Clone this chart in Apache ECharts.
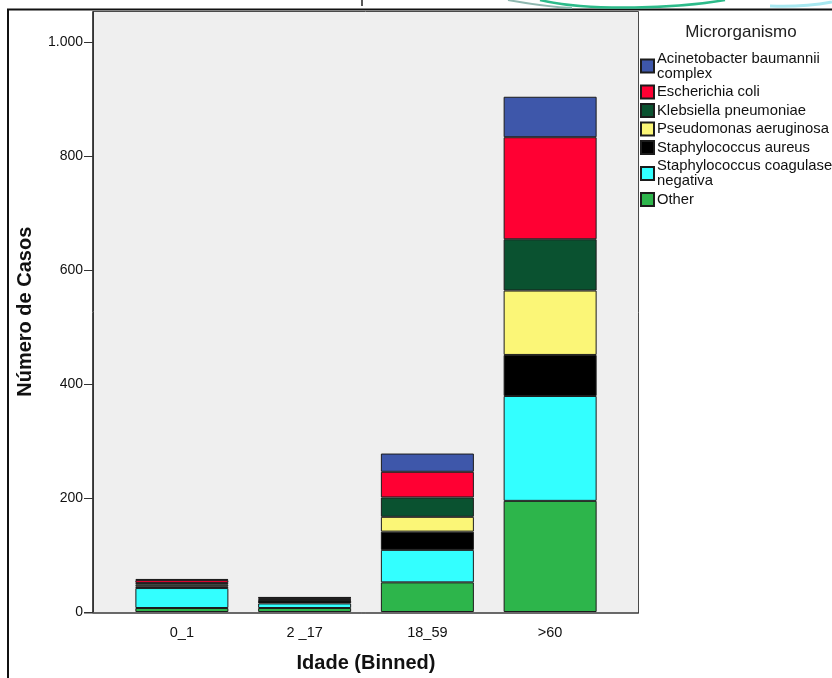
<!DOCTYPE html>
<html>
<head>
<meta charset="utf-8">
<script src="https://cdn.jsdelivr.net/npm/echarts@6/dist/echarts.min.js"></script>
<style>
html,body{margin:0;padding:0;background:#fff;}
#chart{width:832px;height:678px;}
</style>
</head>
<body>
<div id="chart"></div>
<script>
// ---- data ----
var categories = ['0_1', '2 _17', '18_59', '>60'];
var seriesNames = [
  'Other',
  'Staphylococcus coagulase negativa',
  'Staphylococcus aureus',
  'Pseudomonas aeruginosa',
  'Klebsiella pneumoniae',
  'Escherichia coli',
  'Acinetobacter baumannii complex'
];
var other   = [7, 7, 52, 195];
var coag    = [35, 8, 57, 184];
var aureus  = [3, 5, 32, 72];
var pseudo  = [3, 1, 26, 113];
var kleb    = [3, 2, 34, 90];
var ecoli   = [5, 2, 45, 179];
var acineto = [2, 1, 32, 71];
var yTicks = [0, 200, 400, 600, 800, 1000];
var legendOrder = [
  'Acinetobacter baumannii complex',
  'Escherichia coli',
  'Klebsiella pneumoniae',
  'Pseudomonas aeruginosa',
  'Staphylococcus aureus',
  'Staphylococcus coagulase negativa',
  'Other'
];
var legendLabels = {
  'Acinetobacter baumannii complex': 'Acinetobacter baumannii\ncomplex',
  'Staphylococcus coagulase negativa': 'Staphylococcus coagulase\nnegativa'
};

var values = [other, coag, aureus, pseudo, kleb, ecoli, acineto];
var colors = ['#2DB54B', '#33FFFF', '#000000', '#FBF677', '#0A5230', '#FF0033', '#3E57AA'];

var FONT = "'Liberation Sans', Arial, sans-serif";

var chart = echarts.init(document.getElementById('chart'), null, {renderer: 'canvas'});

var series = seriesNames.map(function (n, i) {
  return {
    name: n,
    type: 'bar',
    stack: 'total',
    data: values[i],
    barWidth: 93,
    itemStyle: {color: colors[i], borderColor: '#1c1c1c', borderWidth: 1},
    emphasis: {disabled: true}
  };
});

var option = {
  animation: false,
  textStyle: {fontFamily: FONT},
  title: {
    text: 'Microrganismo',
    left: 741, top: 24,
    padding: 0,
    textAlign: 'center',
    textStyle: {fontFamily: FONT, fontSize: 17, fontWeight: 'normal', color: '#222'}
  },
  legend: {
    data: legendOrder,
    orient: 'vertical',
    left: 640, top: 51,
    padding: 0,
    itemWidth: 13, itemHeight: 13,
    itemGap: 3.5,
    icon: 'rect',
    selectedMode: false,
    formatter: function (name) { return legendLabels[name] || name; },
    textStyle: {fontFamily: FONT, fontSize: 14.8, lineHeight: 15, color: '#111', padding: [0, 0, 0, -2]}
  },
  grid: {left: 120.5, right: 220.5, top: 11.5, bottom: 65, containLabel: false},
  xAxis: {
    type: 'category',
    data: categories,
    name: 'Idade (Binned)',
    nameLocation: 'middle',
    nameGap: 41,
    nameTextStyle: {fontFamily: FONT, fontSize: 20, fontWeight: 'bold', color: '#111'},
    axisLine: {show: false},
    axisTick: {alignWithLabel: true, length: 7, lineStyle: {color: '#333'}},
    axisLabel: {fontFamily: FONT, fontSize: 14.5, color: '#111', margin: 13},
    splitLine: {show: false}
  },
  yAxis: {
    type: 'value',
    min: 0, max: 1053.6,
    interval: 200,
    offset: 27.5,
    name: 'Número de Casos',
    nameLocation: 'middle',
    nameGap: 58,
    nameTextStyle: {fontFamily: FONT, fontSize: 20, fontWeight: 'bold', color: '#111'},
    axisLine: {show: true, lineStyle: {color: '#333', width: 1}},
    axisTick: {show: true, length: 9, lineStyle: {color: '#333'}, customValues: yTicks},
    axisLabel: {
      fontFamily: FONT, fontSize: 14, color: '#111', margin: 10,
      customValues: yTicks,
      formatter: function (v) { return String(v).replace(/\B(?=(\d{3})+(?!\d))/g, '.'); }
    },
    splitLine: {show: false}
  },
  graphic: [
    {
      type: 'rect', silent: true, z: -100,
      shape: {x: 92.5, y: 11.5, width: 546, height: 601.5},
      style: {fill: '#EFEFEF', stroke: '#4a4a4a', lineWidth: 1}
    },
    {
      type: 'line', silent: true, z: 100,
      shape: {x1: 84, y1: 613, x2: 639, y2: 613},
      style: {stroke: '#333', lineWidth: 1}
    },
    {
      type: 'polyline', silent: true,
      shape: {points: [[8, 678], [8, 9.5], [832, 9.5]]},
      style: {stroke: '#111', lineWidth: 2, fill: null}
    },
    {
      type: 'line', silent: true,
      shape: {x1: 362, y1: 0, x2: 362, y2: 6},
      style: {stroke: '#222', lineWidth: 1.5}
    },
    {
      type: 'bezierCurve', silent: true,
      shape: {x1: 508, y1: 0, x2: 572, y2: 8, cpx1: 530, cpy1: 4, cpx2: 550, cpy2: 7},
      style: {stroke: '#8fb8b0', lineWidth: 2, fill: null}
    },
    {
      type: 'bezierCurve', silent: true,
      shape: {x1: 540, y1: 0, x2: 725, y2: 0, cpx1: 590, cpy1: 12, cpx2: 680, cpy2: 8},
      style: {stroke: '#2dbb8a', lineWidth: 2.5, fill: null}
    },
    {
      type: 'bezierCurve', silent: true,
      shape: {x1: 770, y1: 6, x2: 832, y2: 2, cpx1: 790, cpy1: 7, cpx2: 815, cpy2: 5},
      style: {stroke: '#a8e8f0', lineWidth: 3, fill: null}
    }
  ],
  series: series
};

chart.setOption(option);
</script>
</body>
</html>
